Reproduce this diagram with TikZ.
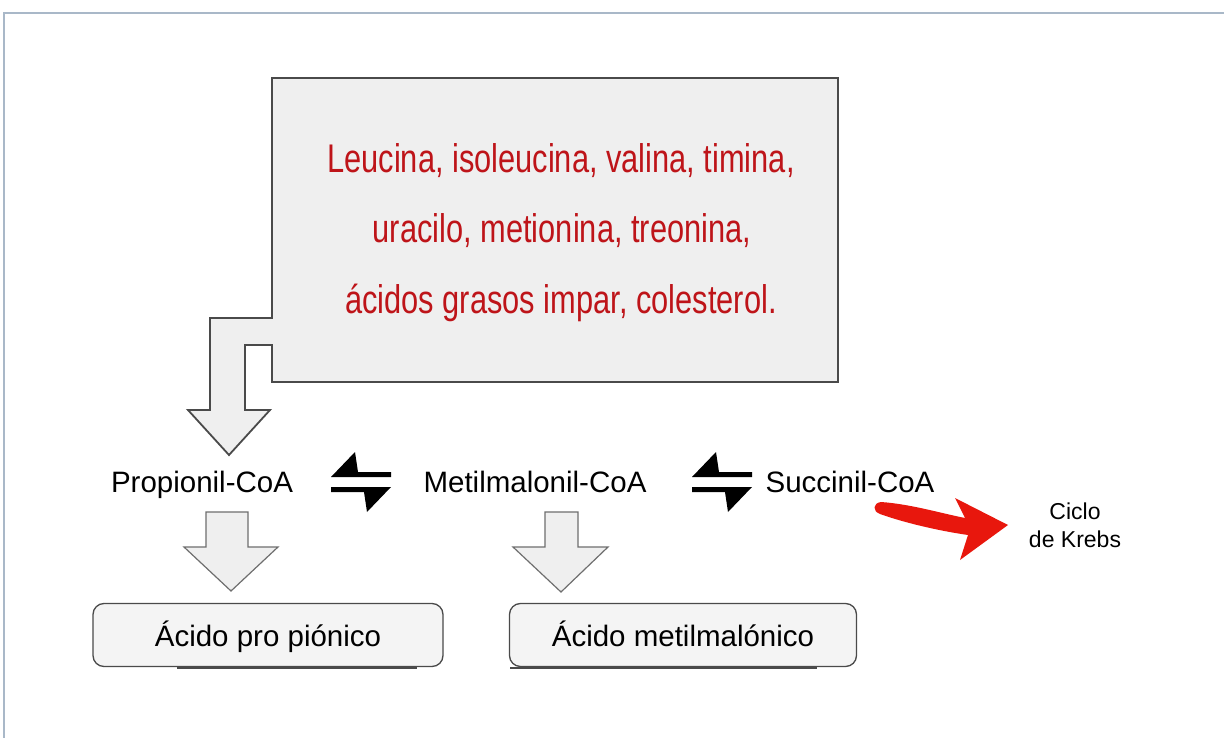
\documentclass[tikz,border=0pt]{standalone}
\usepackage{fontspec}
\setmainfont{Liberation Sans}
\newfontfamily\narrowfont{Liberation Sans}[FakeStretch=0.77]
\definecolor{framec}{HTML}{A9B8C8}
\definecolor{srcred}{HTML}{BE1419}
\definecolor{krebsred}{HTML}{E8170D}
\definecolor{boxgray}{HTML}{EFEFEF}
\definecolor{resgray}{HTML}{F4F4F4}
\definecolor{edgegray}{HTML}{4A4A4A}
\begin{document}
\begin{tikzpicture}[x=1pt,y=-1pt,
  bigbox/.style={draw=edgegray,line width=1.8pt,fill=boxgray,line join=miter},
  srctext/.style={anchor=base,text=srcred,font=\narrowfont\fontsize{40}{46}\selectfont,inner sep=0},
  metab/.style={anchor=base,font=\fontsize{29.5}{34}\selectfont,inner sep=0},
  blockarrow/.style={draw=edgegray!80,line width=1.2pt,fill=boxgray},
  harpoon/.style={fill=black,draw=none},
  resbox/.style={draw=edgegray,line width=1.3pt,fill=resgray,rounded corners=11pt,
     inner sep=0,text height=29pt,text depth=6pt,font=\fontsize{29.5}{34}\selectfont},
  shadowline/.style={draw=edgegray,line width=2.5pt},
  krebstext/.style={anchor=base,font=\fontsize{23}{27}\selectfont,inner sep=0},
  pics/eqharp/.style={code={
     \fill[harpoon] (-30,-5) -- (-6,-30) -- (-3,-10) -- (30,-10) -- (30,-5) -- cycle;
     \fill[harpoon] (30,5) -- (6,30) -- (3,10) -- (-30,10) -- (-30,5) -- cycle;
  }}
]
\useasboundingbox (0,0) rectangle (1224,738);
\fill[white] (0,0) rectangle (1224,738);
% frame
\draw[framec,line width=2pt] (1224,13) -- (4,13) -- (4,738);

% source box with its block arrow
\draw[bigbox] (272,78) -- (838,78) -- (838,382) -- (272,382) -- (272,345) -- (245,345)
  -- (245,410) -- (270,410) -- (229,455) -- (188,410) -- (210,410) -- (210,318)
  -- (272,318) -- cycle;
\node[srctext] (src1) at (561,173) {Leucina, isoleucina, valina, timina,};
\node[srctext] (src2) at (562,243) {uracilo, metionina, treonina,};
\node[srctext] (src3) at (561,313) {ácidos grasos impar, colesterol.};

% metabolites
\node[metab] (prop) at (202,492) {Propionil-CoA};
\node[metab] (metil) at (535,492) {Metilmalonil-CoA};
\node[metab] (succ) at (850,492) {Succinil-CoA};

% equilibrium harpoons
\pic at (361,482) {eqharp};
\pic at (722,482) {eqharp};

% block arrows down
\draw[blockarrow] (206,512) -- (248,512) -- (248,547) -- (278,547) -- (231,591)
  -- (184,547) -- (206,547) -- cycle;
\draw[blockarrow] (545,512) -- (578,512) -- (578,547) -- (608,547) -- (561,592)
  -- (513,547) -- (545,547) -- cycle;

% result boxes
\node[resbox,minimum width=350pt,minimum height=63pt] (acprop) at (268,635) {Ácido pro piónico};
\node[resbox,minimum width=347pt,minimum height=63pt] (acmetil) at (683,635) {Ácido metilmalónico};
\draw[shadowline] (177,668) -- (417,668);
\draw[shadowline] (510,668) -- (817,668);

% Krebs
\node[krebstext] (ciclo) at (1075,519) {Ciclo};
\node[krebstext] (krebs) at (1075,547) {de Krebs};
\fill[krebsred] (881,502) .. controls (910,504) and (940,513) .. (965,518)
  -- (955,498) -- (1008,525) -- (960,560) -- (968,535)
  .. controls (940,531) and (905,523) .. (880,514)
  .. controls (872,511) and (873,503) .. (881,502) -- cycle;
\end{tikzpicture}
\end{document}
